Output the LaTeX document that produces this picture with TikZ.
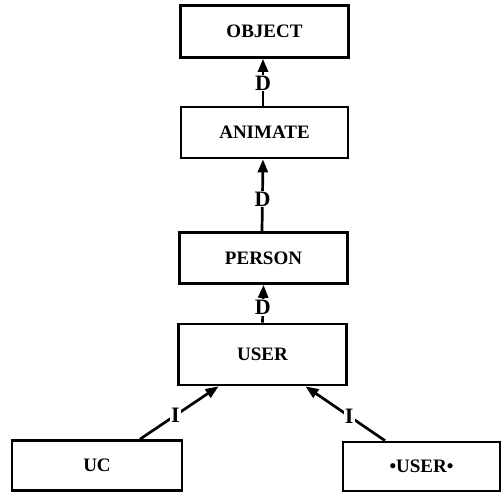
\documentclass[tikz,border=0pt]{standalone}
\usepackage{fontspec}
\setmainfont{Liberation Serif}
\usetikzlibrary{arrows.meta}
\begin{document}
\begin{tikzpicture}[x=1pt,y=-1pt,
  box/.style={draw,line width=2.7pt,rectangle,inner sep=0pt,font=\fontsize{19}{21}\selectfont\bfseries},
  arr/.style={line width=2.7pt,-{Triangle[length=13pt,width=10pt]}},
  lab/.style={fill=white,inner sep=1pt,font=\fontsize{22}{24}\selectfont\bfseries}]
\useasboundingbox (0,0) rectangle (502,492);
\node[box,minimum width=168pt,minimum height=52pt] (object) at (264.5,31.5) {OBJECT};
\node[box,minimum width=167pt,minimum height=51pt] (animate) at (264.5,132.5) {ANIMATE};
\node[box,minimum width=168pt,minimum height=51pt] (person) at (263.5,258) {PERSON};
\node[box,minimum width=168pt,minimum height=61pt] (user) at (262.5,354.5) {USER};
\node[box,minimum width=170pt,minimum height=50pt] (uc) at (97,465.5) {UC};
\node[box,minimum width=157pt,minimum height=49pt] (star) at (421.5,466.5) {•USER•};
\draw[arr] ([xshift=-1.5pt]animate.north) -- node[lab,pos=0.48]{D} ([xshift=-1.5pt]object.south);
\draw[arr] ([xshift=-1.5pt]person.north) -- node[lab,pos=0.45]{D} ([xshift=-1.5pt]animate.south);
\draw[arr] (user.north) -- node[lab,pos=0.4]{D} (person.south);
\draw[arr] ([xshift=43pt]uc.north) -- node[lab,pos=0.45]{I} ([xshift=-44pt]user.south);
\draw[arr] ([xshift=-36.5pt]star.north) -- node[lab,pos=0.45]{I} ([xshift=43pt]user.south);
\end{tikzpicture}
\end{document}
